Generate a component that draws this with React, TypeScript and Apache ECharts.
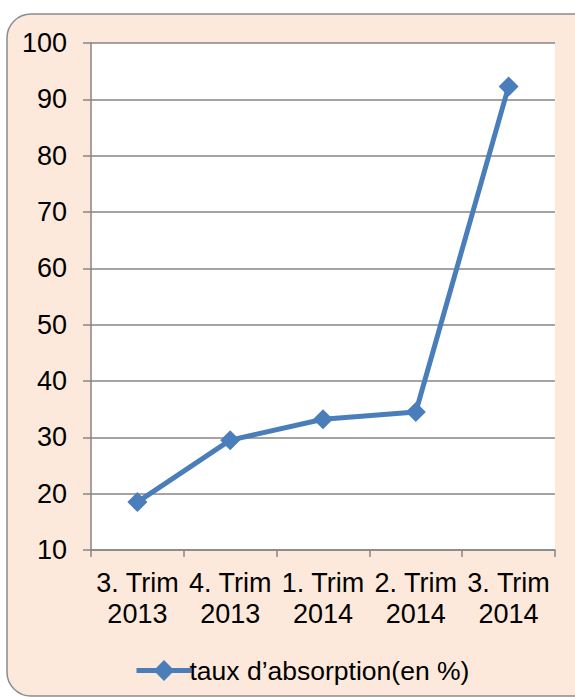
import React, { useEffect, useRef } from "react";
import * as echarts from "echarts";

const categories = ["3. Trim\n2013", "4. Trim\n2013", "1. Trim\n2014", "2. Trim\n2014", "3. Trim\n2014"];
const values = [18.5, 29.5, 33.2, 34.5, 92.3];
const seriesName = "taux d’absorption(en %)";
const yMin = 10;
const yMax = 100;
const yInterval = 10;

export default function App() {
  const ref = useRef<HTMLDivElement>(null);
  useEffect(() => {
    if (!ref.current) return;
    const chart = echarts.init(ref.current, null, { renderer: "svg" });
    const font = "'Liberation Sans', Arial, sans-serif";
    chart.setOption({
      animation: false,
      backgroundColor: "#ffffff",
      textStyle: { fontFamily: font },
      graphic: [
        {
          type: "rect",
          z: -10,
          silent: true,
          shape: { x: 7, y: 14, width: 590, height: 682, r: 24 },
          style: { fill: "#FDE9DB", stroke: "#8C8C8C", lineWidth: 1.5 },
        },
      ],
      grid: {
        left: 91,
        right: 20,
        top: 43,
        bottom: 149,
        show: true,
        backgroundColor: "#ffffff",
        borderWidth: 0,
      },
      legend: {
        left: 129,
        top: 652,
        itemWidth: 55,
        itemHeight: 26,
        itemGap: 10,
        lineStyle: { width: 5 },
        textStyle: { fontSize: 26.5, color: "#000", fontFamily: font, padding: [0, 0, 0, -7] },
        data: [seriesName],
      },
      xAxis: {
        type: "category",
        data: categories,
        boundaryGap: true,
        axisLine: { show: true, lineStyle: { color: "#868686", width: 1.5 } },
        axisTick: { show: true, length: 7, lineStyle: { color: "#868686", width: 1.5 } },
        axisLabel: {
          fontSize: 27,
          color: "#000",
          lineHeight: 31,
          margin: 17,
          fontFamily: font,
          interval: 0,
        },
      },
      yAxis: {
        type: "value",
        min: yMin,
        max: yMax,
        interval: yInterval,
        axisLine: { show: true, lineStyle: { color: "#868686", width: 1.5 } },
        axisTick: { show: true, length: 8, lineStyle: { color: "#868686", width: 1.5 } },
        axisLabel: { fontSize: 27, color: "#000", margin: 24, fontFamily: font },
        splitLine: { show: true, lineStyle: { color: "#868686", width: 1.5 } },
      },
      series: [
        {
          name: seriesName,
          type: "line",
          data: values,
          symbol: "diamond",
          symbolSize: 20,
          color: "#4A7EBB",
          lineStyle: { color: "#4A7EBB", width: 5 },
          itemStyle: { color: "#4A7EBB" },
        },
      ],
    });
    return () => chart.dispose();
  }, []);
  return (
    <div
      ref={ref}
      style={{ position: "fixed", left: 0, top: 0, width: 575, height: 699 }}
    />
  );
}
